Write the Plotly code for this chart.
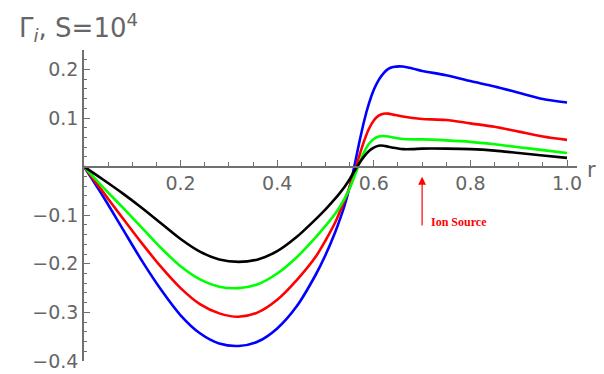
import plotly.graph_objects as go

r = [0, .04, .08, .12, .16, .20, .24, .28, .32, .36, .40, .44, .48, .50, .52, .53, .54, .55, .56, .57,
     .58, .59, .60, .61, .62, .63, .64, .66, .68, .70, .75, .80, .85, .90, .95, 1.0]

blue = [0, -.062, -.128, -.194, -.254, -.306, -.343, -.364, -.369, -.360, -.333, -.288, -.222, -.182, -.135, -.108,
        -.078, -.042, .002, .05, .094, .13, .158, .178, .192, .201, .205, .206, .202, .197,
        .188, .176, .165, .152, .139, .132]
red = [0, -.053, -.106, -.158, -.207, -.250, -.283, -.302, -.309, -.300, -.274, -.234, -.185, -.152, -.115, -.092,
       -.068, -.042, -.012, .022, .053, .078, .095, .105, .109, .109, .107, .103, .100, .098,
       .096, .089, .082, .072, .062, .055]
green = [0, -.043, -.084, -.126, -.168, -.205, -.232, -.247, -.250, -.242, -.220, -.187, -.145, -.122, -.097, -.082,
         -.065, -.045, -.02, .007, .03, .047, .057, .062, .063, .062, .060, .057, .056, .056,
         .054, .051, .046, .040, .034, .028]
black = [0, -.027, -.055, -.085, -.117, -.149, -.175, -.191, -.196, -.191, -.174, -.145, -.108, -.088, -.066, -.054,
         -.041, -.026, -.009, .007, .021, .032, .039, .043, .043, .041, .039, .036, .036, .037,
         .037, .036, .033, .028, .023, .018]

series = [("blue", blue, "#0000FF"), ("red", red, "#FF0000"),
          ("green", green, "#00FF00"), ("black", black, "#000000")]

xtick_vals = [0.2, 0.4, 0.6, 0.8, 1.0]
xtick_text = ["0.2", "0.4", "0.6", "0.8", "1.0"]
ytick_vals = [-0.4, -0.3, -0.2, -0.1, 0.1, 0.2]
ytick_text = ["\u22120.4", "\u22120.3", "\u22120.2", "\u22120.1", "0.1", "0.2"]

fig = go.Figure()
for name, vals, col in series:
    fig.add_trace(go.Scatter(x=r, y=vals, mode="lines", name=name,
                             line=dict(color=col, width=2.6, shape="spline", smoothing=0.8),
                             showlegend=False, hoverinfo="skip"))

axis_col = "#707070"
lab_font = dict(family="DejaVu Sans", size=19, color="#666666")

# the page body adds an 8px offset; compensate so the plot lands where the reference has it
yr = [-0.4, 0.24]
fig.update_layout(
    width=596, height=366,
    margin=dict(l=76, r=27, t=42, b=13, autoexpand=False),
    plot_bgcolor="white", paper_bgcolor="white",
    xaxis=dict(range=[0, 1.0207], showgrid=False, zeroline=False, showline=True, automargin=False,
               linecolor=axis_col, linewidth=1.5, anchor="free",
               position=(0 - yr[0]) / (yr[1] - yr[0]),
               tickmode="array", tickvals=xtick_vals, ticktext=xtick_text,
               ticks="inside", ticklen=6, tickwidth=1.2, tickcolor=axis_col,
               minor=dict(dtick=0.05, tick0=0, ticks="inside", ticklen=3.5, tickwidth=1, tickcolor=axis_col),
               tickfont=lab_font),
    yaxis=dict(range=yr, showgrid=False, zeroline=False, showline=True, automargin=False,
               linecolor=axis_col, linewidth=1.5,
               tickmode="array", tickvals=ytick_vals, ticktext=ytick_text,
               ticks="inside", ticklen=6, tickwidth=1.2, tickcolor=axis_col,
               minor=dict(dtick=0.02, tick0=0, ticks="inside", ticklen=3.5, tickwidth=1, tickcolor=axis_col),
               tickfont=lab_font),
)

# title-like label at top left
fig.add_annotation(xref="paper", yref="paper", x=(17 - 84) / 493, y=(361 - 27) / 311,
                   xanchor="left", yanchor="middle", showarrow=False,
                   text="\u0393<sub><i>i</i></sub>, S=10<sup>4</sup>",
                   font=dict(family="DejaVu Sans", size=26, color="#666666"))
# axis label r
fig.add_annotation(xref="paper", yref="paper", x=(585 - 84) / 493, y=(361 - 170) / 311,
                   xanchor="left", yanchor="middle", showarrow=False,
                   text="r", font=dict(family="DejaVu Sans", size=21, color="#666666"))
# Ion source arrow
fig.add_annotation(x=0.70, y=-0.021, ax=0.70, ay=-0.124, xref="x", yref="y", axref="x", ayref="y",
                   text="", showarrow=True, arrowhead=2, arrowsize=1.3, arrowwidth=1.2,
                   arrowcolor="#FF0000")
fig.add_annotation(x=0.715, y=-0.114, xref="x", yref="y", xanchor="left", yanchor="middle",
                   showarrow=False, text="<b>Ion Source</b>",
                   font=dict(family="Liberation Serif", size=12, color="#FF0000"))

fig.write_html("out.html")
